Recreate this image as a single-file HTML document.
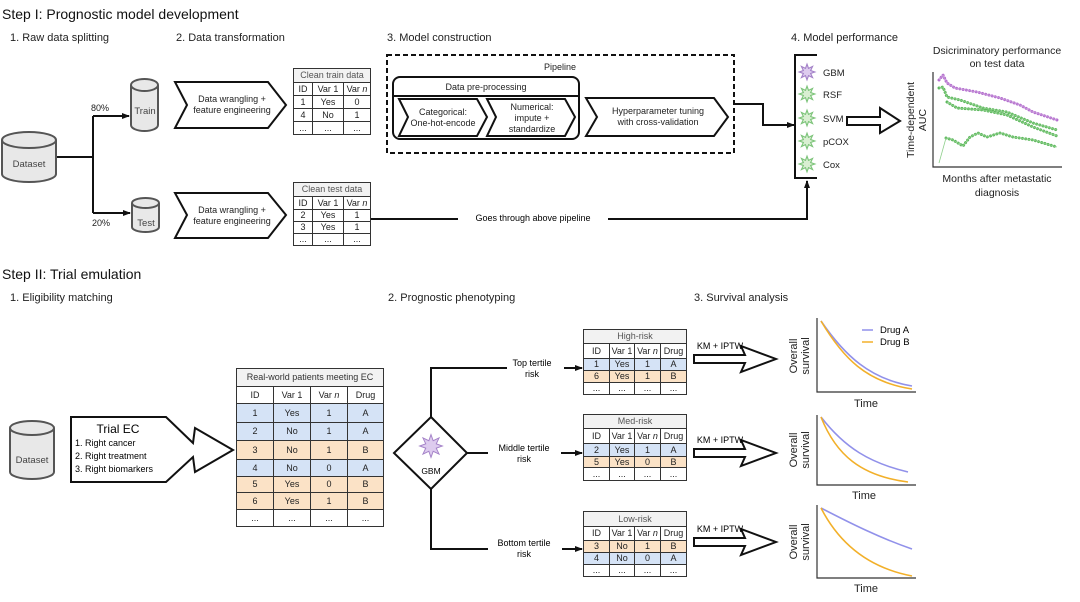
<!DOCTYPE html>
<html><head><meta charset="utf-8">
<style>
body{margin:0;width:1080px;height:602px;background:#fff;position:relative;overflow:hidden;font-family:"Liberation Sans",sans-serif;color:#222}
svg{position:absolute;left:0;top:0}
table{position:absolute;border-collapse:collapse;font-size:9px;table-layout:fixed;border:1.6px solid #333}
td{border:1px solid #333;text-align:center;padding:0;line-height:1;overflow:hidden;white-space:nowrap}
td.t{background:#f2f2f2;color:#555}
tr.b td{background:#d5e3f6}
tr.o td{background:#fbe2c6}
.h{position:absolute;font-size:14px;color:#111}
.s{position:absolute;font-size:11px;color:#222}
</style></head><body>
<div class="h" style="left:2px;top:6px">Step I: Prognostic model development</div>
<div class="s" style="left:10px;top:32px">1. Raw data splitting</div>
<div class="s" style="left:176px;top:32px">2. Data transformation</div>
<div class="s" style="left:387px;top:32px">3. Model construction</div>
<div class="s" style="left:791px;top:32px">4. Model performance</div>
<div class="h" style="left:2px;top:266px">Step II: Trial emulation</div>
<div class="s" style="left:10px;top:292px">1. Eligibility matching</div>
<div class="s" style="left:388px;top:292px">2. Prognostic phenotyping</div>
<div class="s" style="left:694px;top:292px">3. Survival analysis</div>

<svg width="1080" height="602" viewBox="0 0 1080 602" font-family="Liberation Sans, sans-serif">
<defs>
<marker id="ah" markerWidth="8" markerHeight="8" refX="7" refY="4" orient="auto" markerUnits="userSpaceOnUse"><path d="M0,1 L8,4 L0,7 Z" fill="#111"/></marker>
<symbol id="st" viewBox="-8 -8 16 16" overflow="visible"><polygon points="0,-7 1.34,-3.23 4.95,-4.95 3.23,-1.34 7,0 3.23,1.34 4.95,4.95 1.34,3.23 0,7 -1.34,3.23 -4.95,4.95 -3.23,1.34 -7,0 -3.23,-1.34 -4.95,-4.95 -1.34,-3.23"/></symbol>
</defs>
<g stroke="#555" stroke-width="2" fill="#e8e8e8">
<path d="M2,140 v34 a27,8 0 0 0 54,0 v-34"/><ellipse cx="29" cy="140" rx="27" ry="8"/>
<path d="M131,85 v40 a13.5,6 0 0 0 27,0 v-40"/><ellipse cx="144.5" cy="85" rx="13.5" ry="6"/>
<path d="M132,203 v24 a13.5,5 0 0 0 27,0 v-24"/><ellipse cx="145.5" cy="203" rx="13.5" ry="5"/>
<path d="M10,428 v44 a22,7 0 0 0 44,0 v-44"/><ellipse cx="32" cy="428" rx="22" ry="7"/>
</g>
<g font-size="9.5" fill="#444" text-anchor="middle">
<text x="29" y="167">Dataset</text><text x="145" y="114">Train</text><text x="146" y="226">Test</text><text x="32" y="463">Dataset</text>
</g>
<g stroke="#111" stroke-width="2" fill="none">
<path d="M57,157 H93 M93,116 V213"/>
<path d="M93,116 H129" marker-end="url(#ah)"/><path d="M93,213 H130" marker-end="url(#ah)"/>
<path d="M370,219 H807 V181" marker-end="url(#ah)"/>
<path d="M734,104 H763 V125 H794" marker-end="url(#ah)"/>
<path d="M817,55 H795 V178 H817"/>
<polygon points="175,82 268,82 286,105 268,128 175,128 187,105" fill="#fff"/>
<polygon points="175,193 268,193 286,215 268,238 175,238 187,215" fill="#fff"/>
<rect x="387" y="55" width="347" height="98" stroke-dasharray="5,3"/>
<rect x="393" y="77" width="186" height="62" rx="7"/>
<path d="M393,96 H579"/>
<polygon points="399,99 477,99 487,117 477,136 399,136 408,117"/>
<polygon points="487,99 565,99 575,117 565,136 487,136 496,117"/>
<polygon points="586,98 714,98 728,117 714,136 586,136 597,117"/>
<polygon points="847,117 880,117 880,108 900,121 880,133 880,125 847,125" fill="#fff"/>
</g>
<rect x="458" y="212" width="150" height="12" fill="#fff"/>
<text x="533" y="221" font-size="9" text-anchor="middle">Goes through above pipeline</text>
<g font-size="9" text-anchor="middle" fill="#222">
<text x="100" y="111">80%</text><text x="101" y="226">20%</text>
<text x="232" y="102">Data wrangling +</text><text x="232" y="113">feature engineering</text>
<text x="232" y="213">Data wrangling +</text><text x="232" y="224">feature engineering</text>
<text x="560" y="70">Pipeline</text><text x="486" y="90">Data pre-processing</text>
<text x="443" y="115">Categorical:</text><text x="443" y="126">One-hot-encode</text>
<text x="532" y="110">Numerical:</text><text x="532" y="121">impute +</text><text x="532" y="132">standardize</text>
<text x="658" y="114">Hyperparameter tuning</text><text x="658" y="125">with cross-validation</text>
</g>
<g stroke-width="1">
<use href="#st" x="798" y="63" width="18" height="18" fill="#ddcbee" stroke="#a482c8"/>
<use href="#st" x="798" y="85" width="18" height="18" fill="#d9efd2" stroke="#7dc47a"/>
<use href="#st" x="798" y="109" width="18" height="18" fill="#d9efd2" stroke="#7dc47a"/>
<use href="#st" x="798" y="132" width="18" height="18" fill="#d9efd2" stroke="#7dc47a"/>
<use href="#st" x="798" y="155" width="18" height="18" fill="#d9efd2" stroke="#7dc47a"/>
</g>
<g font-size="9.5" fill="#222">
<text x="823" y="76">GBM</text><text x="823" y="98">RSF</text><text x="823" y="122">SVM</text><text x="823" y="145">pCOX</text><text x="823" y="168">Cox</text>
</g>
<g font-size="10.5" text-anchor="middle" fill="#222">
<text x="997" y="54">Dsicriminatory performance</text><text x="997" y="67">on test data</text>
<text x="997" y="182">Months after metastatic</text><text x="997" y="196">diagnosis</text>
<text transform="translate(914,120) rotate(-90)">Time-dependent</text>
<text transform="translate(926,120) rotate(-90)">AUC</text>
</g>
<path d="M933,72 V167 H1062" stroke="#333" stroke-width="1.2" fill="none"/>
<g fill="none" stroke-width="3" stroke-dasharray="0.1,3.2" stroke-linecap="round">
<polyline points="939,80 943,75 947,83 955,88 977,92 1000,98 1020,105 1033,112 1057,120" stroke="#b36bcf"/>
<polyline points="939,88 943,87 947,97 960,100 983,108 1007,112 1033,123 1057,130" stroke="#5cb85c"/>
<polyline points="947,102 957,108 983,110 1007,115 1033,127 1057,136" stroke="#5cb85c"/>
<polyline points="946,138 953,140 963,146 970,137 978,133 987,137 1000,133 1013,137 1033,140 1057,147" stroke="#5cb85c"/>
</g>
<g fill="none" stroke-width="0.8">
<polyline points="939,80 943,75 947,83 955,88 977,92 1000,98 1020,105 1033,112 1057,120" stroke="#c89ad8"/>
<polyline points="939,88 943,87 947,97 960,100 983,108 1007,112 1033,123 1057,130" stroke="#8fcf8c"/>
<polyline points="947,102 957,108 983,110 1007,115 1033,127 1057,136" stroke="#8fcf8c"/>
<polyline points="939,163 946,138 953,140 963,146 970,137 978,133 987,137 1000,133 1013,137 1033,140 1057,147" stroke="#8fcf8c"/>
</g>

<!-- Step II -->
<polygon points="71,417 166,417 193,443 195,428 233,450 195,472 193,457 166,482 71,482" fill="#fff" stroke="#111" stroke-width="2"/>
<text x="118" y="433" font-size="12" text-anchor="middle">Trial EC</text>
<g font-size="9">
<text x="75" y="446">1. Right cancer</text><text x="75" y="459">2. Right treatment</text><text x="75" y="472">3. Right biomarkers</text>
</g>
<polygon points="431,417 467,453 431,489 394,453" fill="#fff" stroke="#111" stroke-width="2"/>
<use href="#st" x="418" y="433" width="26" height="26" fill="#ddcbee" stroke="#a482c8" stroke-width="0.6"/>
<text x="431" y="474" font-size="8.5" text-anchor="middle">GBM</text>
<g stroke="#111" stroke-width="2" fill="none">
<path d="M431,417 V368 H507 M467,453 H488 M431,489 V549 H488"/>
<path d="M564,368 H582" marker-end="url(#ah)"/>
<path d="M561,453 H582" marker-end="url(#ah)"/>
<path d="M562,549 H582" marker-end="url(#ah)"/>
<polygon points="694,355 745,355 741,346 776,359 741,372 745,363 694,363" fill="#fff"/>
<polygon points="694,449 745,449 741,440 776,453 741,466 745,457 694,457" fill="#fff"/>
<polygon points="694,538 745,538 741,529 776,542 741,555 745,546 694,546" fill="#fff"/>
</g>
<g font-size="9" text-anchor="middle">
<text x="532" y="366">Top tertile</text><text x="532" y="377">risk</text>
<text x="524" y="451">Middle tertile</text><text x="524" y="462">risk</text>
<text x="524" y="546">Bottom tertile</text><text x="524" y="557">risk</text>
<text x="720" y="349">KM + IPTW</text><text x="720" y="443">KM + IPTW</text><text x="720" y="532">KM + IPTW</text>
</g>
<g stroke="#333" stroke-width="1.2" fill="none">
<path d="M817,318 V392 H916"/><path d="M817,415 V485 H916"/><path d="M817,505 V578 H916"/>
</g>
<g font-size="11" text-anchor="middle" fill="#222">
<text x="866" y="407">Time</text><text x="864" y="499">Time</text><text x="866" y="592">Time</text>
<text transform="translate(797,356) rotate(-90)">Overall</text><text transform="translate(809,356) rotate(-90)">survival</text>
<text transform="translate(797,450) rotate(-90)">Overall</text><text transform="translate(809,450) rotate(-90)">survival</text>
<text transform="translate(797,542) rotate(-90)">Overall</text><text transform="translate(809,542) rotate(-90)">survival</text>
</g>
<g fill="none" stroke-width="1.6">
<path d="M821,321 C845,356 870,379 912,386" stroke="#9191ea"/>
<path d="M821,321 C843,358 866,382 912,389" stroke="#f2b02a"/>
<path d="M821,417 C845,448 870,463 908,472" stroke="#9191ea"/>
<path d="M821,417 C836,455 861,476 908,482" stroke="#f2b02a"/>
<path d="M821,508 C850,523 880,538 912,549" stroke="#9191ea"/>
<path d="M821,508 C840,545 870,568 912,576" stroke="#f2b02a"/>
</g>
<path d="M862,330 H873" stroke="#9191ea" stroke-width="1.5"/><path d="M862,342 H873" stroke="#f2b02a" stroke-width="1.5"/>
<text x="880" y="333" font-size="9.5">Drug A</text><text x="880" y="345" font-size="9.5">Drug B</text>
</svg>

<table style="left:293px;top:68px;width:77px">
<col style="width:19px"><col style="width:31px"><col style="width:27px">
<tr style="height:14px"><td class="t" colspan="3">Clean train data</td></tr>
<tr style="height:13px"><td>ID</td><td>Var 1</td><td>Var <i>n</i></td></tr>
<tr style="height:13px"><td>1</td><td>Yes</td><td>0</td></tr>
<tr style="height:13px"><td>4</td><td>No</td><td>1</td></tr>
<tr style="height:13px"><td>...</td><td>...</td><td>...</td></tr>
</table>
<table style="left:293px;top:182px;width:77px">
<col style="width:19px"><col style="width:31px"><col style="width:27px">
<tr style="height:14px"><td class="t" colspan="3">Clean test data</td></tr>
<tr style="height:13px"><td>ID</td><td>Var 1</td><td>Var <i>n</i></td></tr>
<tr style="height:12px"><td>2</td><td>Yes</td><td>1</td></tr>
<tr style="height:12px"><td>3</td><td>Yes</td><td>1</td></tr>
<tr style="height:12px"><td>...</td><td>...</td><td>...</td></tr>
</table>
<table style="left:236px;top:368px;width:147px">
<col style="width:37px"><col style="width:37px"><col style="width:37px"><col style="width:36px">
<tr style="height:18px"><td class="t" colspan="4" style="color:#333">Real-world patients meeting EC</td></tr>
<tr style="height:17px"><td>ID</td><td>Var 1</td><td>Var <i>n</i></td><td>Drug</td></tr>
<tr class="b" style="height:19px"><td>1</td><td>Yes</td><td>1</td><td>A</td></tr>
<tr class="b" style="height:18px"><td>2</td><td>No</td><td>1</td><td>A</td></tr>
<tr class="o" style="height:19px"><td>3</td><td>No</td><td>1</td><td>B</td></tr>
<tr class="b" style="height:17px"><td>4</td><td>No</td><td>0</td><td>A</td></tr>
<tr class="o" style="height:16px"><td>5</td><td>Yes</td><td>0</td><td>B</td></tr>
<tr class="o" style="height:17px"><td>6</td><td>Yes</td><td>1</td><td>B</td></tr>
<tr style="height:17px"><td>...</td><td>...</td><td>...</td><td>...</td></tr>
</table>
<table style="left:583px;top:329px;width:103px">
<col style="width:26px"><col style="width:25px"><col style="width:26px"><col style="width:26px">
<tr style="height:14px"><td class="t" colspan="4">High-risk</td></tr>
<tr style="height:15px"><td>ID</td><td>Var 1</td><td>Var <i>n</i></td><td>Drug</td></tr>
<tr class="b" style="height:12px"><td>1</td><td>Yes</td><td>1</td><td>A</td></tr>
<tr class="o" style="height:12px"><td>6</td><td>Yes</td><td>1</td><td>B</td></tr>
<tr style="height:12px"><td>...</td><td>...</td><td>...</td><td>...</td></tr>
</table>
<table style="left:583px;top:414px;width:103px">
<col style="width:26px"><col style="width:25px"><col style="width:26px"><col style="width:26px">
<tr style="height:14px"><td class="t" colspan="4">Med-risk</td></tr>
<tr style="height:15px"><td>ID</td><td>Var 1</td><td>Var <i>n</i></td><td>Drug</td></tr>
<tr class="b" style="height:13px"><td>2</td><td>Yes</td><td>1</td><td>A</td></tr>
<tr class="o" style="height:11px"><td>5</td><td>Yes</td><td>0</td><td>B</td></tr>
<tr style="height:13px"><td>...</td><td>...</td><td>...</td><td>...</td></tr>
</table>
<table style="left:583px;top:511px;width:103px">
<col style="width:26px"><col style="width:25px"><col style="width:26px"><col style="width:26px">
<tr style="height:15px"><td class="t" colspan="4">Low-risk</td></tr>
<tr style="height:14px"><td>ID</td><td>Var 1</td><td>Var <i>n</i></td><td>Drug</td></tr>
<tr class="o" style="height:12px"><td>3</td><td>No</td><td>1</td><td>B</td></tr>
<tr class="b" style="height:12px"><td>4</td><td>No</td><td>0</td><td>A</td></tr>
<tr style="height:12px"><td>...</td><td>...</td><td>...</td><td>...</td></tr>
</table>
</body></html>
